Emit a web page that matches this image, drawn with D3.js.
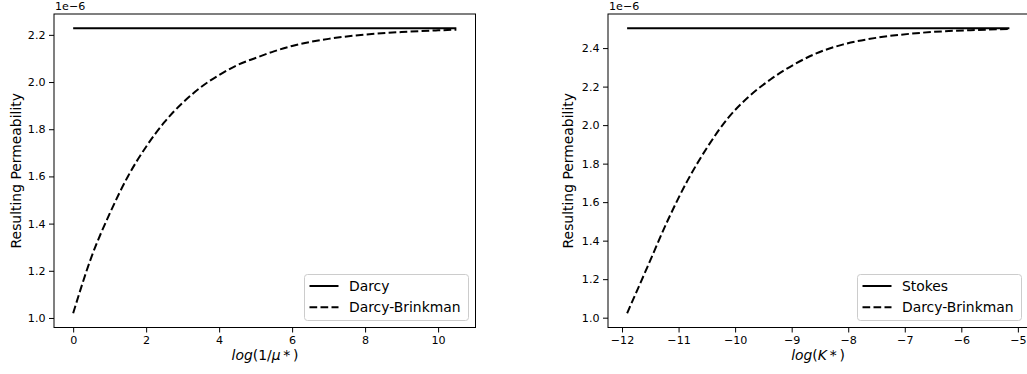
<!DOCTYPE html>
<html>
<head>
<meta charset="utf-8">
<script src="https://cdn.jsdelivr.net/npm/d3@7"></script>
<style>
  body { margin: 0; background: #fff; }
  text { font-family: "DejaVu Sans", sans-serif; fill: #000; }
</style>
</head>
<body>
<svg id="svg" width="1027" height="374"></svg>
<script>
// left panel: viscosity ratio
var muX = [0, 0.5, 1, 1.5, 2, 2.5, 3, 3.5, 4, 4.5, 5, 5.5, 6, 7, 8, 9, 10, 10.5];
var muDB = [1.020, 1.258, 1.442, 1.600, 1.726, 1.830, 1.912, 1.978, 2.030, 2.072, 2.102, 2.130, 2.153, 2.183, 2.201, 2.212, 2.219, 2.222];
var darcy = 2.228;

// right panel: permeability
var kX = [-11.91, -11.55, -11.19, -10.84, -10.49, -10.13, -9.78, -9.37, -8.95, -8.60, -8.10, -7.51, -6.92, -6.33, -5.74, -5.15];
var kDB = [1.023, 1.264, 1.506, 1.713, 1.886, 2.035, 2.142, 2.238, 2.316, 2.368, 2.418, 2.453, 2.474, 2.487, 2.494, 2.499];
var stokes = 2.503;

var leftXTicks = [0, 2, 4, 6, 8, 10];
var leftYTicks = [1.0, 1.2, 1.4, 1.6, 1.8, 2.0, 2.2];
var rightXTicks = [-12, -11, -10, -9, -8, -7, -6, -5];
var rightYTicks = [1.0, 1.2, 1.4, 1.6, 1.8, 2.0, 2.2, 2.4];

var svg = d3.select("#svg");

// pad a domain by 5% like matplotlib
var pad = function(lo, hi) {
    var m = (hi - lo) * 0.05;
    return [lo - m, hi + m];
};

var drawPanel = function(o) {
    var g = svg.append("g");
    var x = d3.scaleLinear().domain(pad(d3.min(o.xs), d3.max(o.xs))).range([o.left, o.right]);
    var y = d3.scaleLinear().domain(pad(d3.min(o.ys), o.flat)).range([o.bottom, o.top]);

    var xAxis = g.append("g").attr("transform", "translate(0," + o.bottom + ")")
        .call(d3.axisBottom(x).tickValues(o.xTicks).tickSize(5).tickPadding(3.5).tickFormat(d3.format("d")));
    var yAxis = g.append("g").attr("transform", "translate(" + o.left + ",0)")
        .call(d3.axisLeft(y).tickValues(o.yTicks).tickSize(5).tickPadding(3.5).tickFormat(d3.format(".1f")));
    [xAxis, yAxis].forEach(function(a) {
        a.select(".domain").remove();
        a.selectAll("line").attr("stroke", "#000").attr("stroke-width", 1);
        a.selectAll("text").attr("font-family", "DejaVu Sans").attr("font-size", "11.1px").attr("fill", "#000");
    });

    // spines
    g.append("rect")
        .attr("x", o.left).attr("y", o.top)
        .attr("width", o.right - o.left).attr("height", o.bottom - o.top)
        .attr("fill", "none").attr("stroke", "#000").attr("stroke-width", 1);

    var line = d3.line().x(function(d) { return x(d[0]); }).y(function(d) { return y(d[1]); })
        .curve(d3.curveMonotoneX);
    var pts = o.xs.map(function(v, i) { return [v, o.ys[i]]; });
    var flatPts = [[o.xs[0], o.flat], [o.xs[o.xs.length - 1], o.flat]];

    g.append("path").datum(flatPts).attr("d", line)
        .attr("fill", "none").attr("stroke", "#000").attr("stroke-width", 2);
    g.append("path").datum(pts).attr("d", line)
        .attr("fill", "none").attr("stroke", "#000").attr("stroke-width", 2)
        .attr("stroke-dasharray", "7.7,3.3");

    // offset text
    g.append("text").attr("x", o.left + 1).attr("y", 10)
        .attr("font-size", "11.1px").text("1e\u22126");

    // axis labels
    g.append("text")
        .attr("transform", "translate(" + o.ylabX + "," + ((o.top + o.bottom) / 2) + ") rotate(-90)")
        .attr("text-anchor", "middle").attr("font-size", "13.9px")
        .text("Resulting Permeability");
    var xl = g.append("text").attr("x", o.xlabX).attr("y", 360)
        .attr("text-anchor", "middle").attr("font-size", "13.9px");
    o.xlab.forEach(function(p) {
        xl.append("tspan").attr("font-style", p[1] ? "italic" : "normal").text(p[0]);
    });

    // legend
    var lw = 164, lh = 46;
    var lx = o.right - 7.5 - lw, ly = o.bottom - 7.5 - lh;
    var leg = g.append("g").attr("transform", "translate(" + lx + "," + ly + ")");
    leg.append("rect").attr("x", 0.5).attr("y", 0.5).attr("width", lw).attr("height", lh)
        .attr("rx", 3).attr("fill", "#fff").attr("fill-opacity", 0.8)
        .attr("stroke", "#cccccc").attr("stroke-width", 1);
    o.legend.forEach(function(name, i) {
        var cy = 12 + i * 21.3;
        leg.append("line").attr("x1", 5.5).attr("x2", 34.5).attr("y1", cy).attr("y2", cy)
            .attr("stroke", "#000").attr("stroke-width", 2)
            .attr("stroke-dasharray", i == 1 ? "7.7,3.3" : null);
        leg.append("text").attr("x", 45).attr("y", cy).attr("dy", "0.35em")
            .attr("font-size", "13.9px").text(name);
    });
};

drawPanel({
    xs: muX, ys: muDB, flat: darcy,
    left: 54, right: 475.5, top: 14, bottom: 327.5,
    xTicks: leftXTicks, yTicks: leftYTicks,
    ylabX: 21, xlabX: 265,
    xlab: [["log", true], ["(1/", false], ["\u03bc", true], ["\u2009*\u2009)", false]],
    legend: ["Darcy", "Darcy-Brinkman"]
});

drawPanel({
    xs: kX, ys: kDB, flat: stokes,
    left: 608, right: 1028.5, top: 14, bottom: 327.5,
    xTicks: rightXTicks, yTicks: rightYTicks,
    ylabX: 573, xlabX: 818,
    xlab: [["log", true], ["(", false], ["K", true], ["\u2009*\u2009)", false]],
    legend: ["Stokes", "Darcy-Brinkman"]
});
</script>
</body>
</html>
